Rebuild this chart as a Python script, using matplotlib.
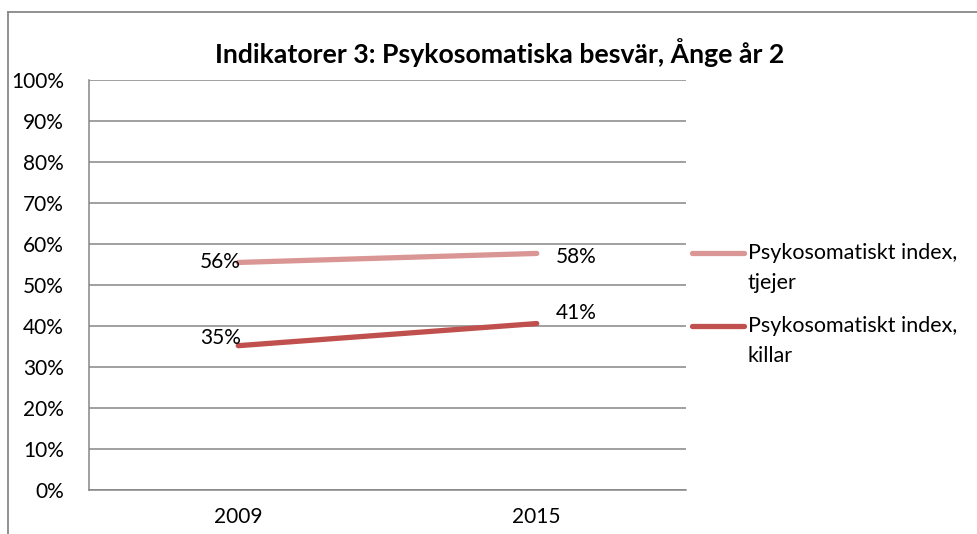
import matplotlib
matplotlib.use("Agg")
import matplotlib.pyplot as plt
from matplotlib.lines import Line2D

# Data
categories = ["2009", "2015"]
tjejer = [55.5, 57.7]
killar = [35.2, 40.6]
series_names = ["Psykosomatiskt index,\ntjejer", "Psykosomatiskt index,\nkillar"]
title = "Indikatorer 3: Psykosomatiska besvär, Ånge år 2"
yticks = list(range(0, 101, 10))

plt.rcParams['font.family'] = ['Lato', 'DejaVu Sans']
FS = 15

W, H = 978, 534
fig = plt.figure(figsize=(W / 100, H / 100), dpi=100)
ax = fig.add_axes([89 / W, 1 - 490 / H, (686 - 89) / W, (490 - 80) / H])

x = [0.5, 1.5]
c_t = "#D99694"
c_k = "#C0504D"
ax.plot(x, tjejer, color=c_t, lw=3.8, solid_capstyle='round', zorder=3)
ax.plot(x, killar, color=c_k, lw=3.8, solid_capstyle='round', zorder=3)

ax.set_xlim(0, 2)
ax.set_ylim(0, 100)
ax.set_yticks(yticks)
ax.set_yticklabels([f"{v}%" for v in yticks], fontsize=FS)
ax.set_xticks(x)
ax.set_xticklabels(categories, fontsize=FS)
ax.tick_params(axis='y', length=0, pad=18)
ax.tick_params(axis='x', length=0, pad=12)
grid_c = "#868686"
ax.yaxis.grid(True, color=grid_c, lw=1.1)
ax.set_axisbelow(True)
for s in ['top', 'right']:
    ax.spines[s].set_visible(False)
for s in ['left', 'bottom']:
    ax.spines[s].set_color(grid_c)
    ax.spines[s].set_linewidth(1.1)

# data labels
def lab(xv, yv, dx, dy, ha):
    ax.annotate(f"{round(yv)}%", (xv, yv), xytext=(dx, dy), textcoords='offset pixels',
                ha=ha, va='center', fontsize=FS, zorder=4)

lab(x[0], tjejer[0], 2, 0, 'right')
lab(x[1], tjejer[1], 19, -4, 'left')
lab(x[0], killar[0], 3, 8, 'right')
lab(x[1], killar[1], 19, 11, 'left')

# title
fig.text(500 / W, 1 - 53 / H, title, ha='center', va='center', fontsize=19.2, fontweight='bold')

# legend (manual)
for yy, col, name in [(253, c_t, series_names[0]), (326, c_k, series_names[1])]:
    fig.add_artist(Line2D([692 / W, 744 / W], [1 - yy / H, 1 - yy / H], color=col, lw=3.8,
                          solid_capstyle='round', transform=fig.transFigure))
    fig.text(748 / W, 1 - (yy - 10) / H, name, ha='left', va='top', fontsize=15.5, linespacing=1.6)

# border
fig.add_artist(Line2D([8 / W, 8 / W], [0, 1 - 12 / H], color="#888888", lw=1.3, transform=fig.transFigure))
fig.add_artist(Line2D([8 / W, 1], [1 - 12 / H, 1 - 12 / H], color="#888888", lw=1.3, transform=fig.transFigure))

fig.savefig("out.png", dpi=100)
